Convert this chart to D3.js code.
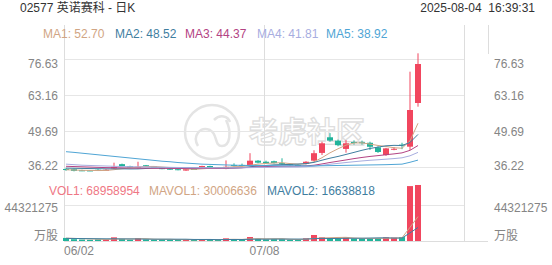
<!DOCTYPE html>
<meta charset="utf-8">
<style>
  body { margin: 0; background: #fff; }
  svg text { font-family: "Liberation Sans", Arial, "Noto Sans CJK SC", sans-serif; }
  .grid { stroke: #e6e6e6; stroke-width: 1; }
  .vgrid { stroke: #dddddd; stroke-width: 1; }
  .lbl { fill: #858585; font-size: 12px; }
</style>
<body>
<svg id="chart" width="552" height="265"></svg>
<script src="https://cdn.jsdelivr.net/npm/d3@7"></script>
<script>

// trading days 06/02 .. 08/04
var dates = ["06/02","06/03","06/04","06/05","06/06","06/09","06/10","06/11","06/12","06/13",
  "06/16","06/17","06/18","06/19","06/20","06/23","06/24","06/25","06/26","06/27","06/30",
  "07/02","07/03","07/04","07/07","07/08","07/09","07/10","07/11","07/14","07/15","07/16",
  "07/17","07/18","07/21","07/22","07/23","07/24","07/25","07/28","07/29","07/30","07/31",
  "08/01","08/04"];

var openP  = [35.6,35.5,35.1,35.05,35.3,35.0,35.8,37.4,36.6,36.0,37.0,36.6,35.9,35.7,35.5,35.0,35.6,36.3,36.7,36.0,
  35.6,37.1,37.1,37.1,38.7,38.3,38.5,37.8,37.4,37.1,37.45,38.7,41.6,47.45,46.2,43.1,45.7,45.6,45.4,43.7,
  40.8,43.0,44.7,43.93,60.28];
var highP  = [35.9,35.7,35.3,35.2,35.5,35.5,37.95,37.6,36.8,38.3,37.1,36.7,36.0,35.8,35.6,35.6,35.7,36.8,36.8,36.1,
  38.8,37.7,37.6,41.5,38.9,38.7,38.7,39.6,37.5,37.3,38.5,42.6,45.8,49.0,46.6,46.4,46.3,46.2,45.8,44.1,
  43.5,43.8,45.4,72.0,78.87];
var lowP   = [34.9,34.7,34.8,34.8,34.9,34.9,35.6,36.5,36.2,35.8,36.6,36.4,35.5,35.3,35.1,34.9,35.3,36.2,36.2,35.8,
  35.5,36.5,36.7,37.0,37.7,37.5,37.6,37.1,36.9,36.9,37.3,38.5,40.8,45.8,44.1,41.7,44.7,44.7,42.7,41.6,
  40.5,42.6,43.0,42.7,58.9];
var closeP = [35.2,34.9,35.0,34.95,35.0,35.3,36.4,36.7,36.4,36.4,36.7,36.5,35.6,35.4,35.2,35.5,35.5,36.7,36.3,35.9,
  36.4,36.95,37.0,38.7,37.95,37.7,37.8,37.5,37.1,37.0,38.3,41.5,45.2,46.2,44.5,45.2,45.5,45.4,43.9,41.95,
  43.3,43.15,44.5,57.66,74.87];

var ma1 = [35.3,35.2,35.1,35.05,35.01,35.03,35.33,35.67,35.96,36.24,36.52,36.54,36.32,36.12,35.88,35.64,35.44,35.66,35.84,35.98,
  36.16,36.45,36.51,36.99,37.40,37.66,37.83,37.93,37.61,37.42,37.54,38.28,39.82,41.64,43.14,44.52,45.32,45.36,44.90,44.39,
  44.01,43.54,43.36,46.11,52.70];
var ma2 = [35.9,35.85,35.8,35.75,35.7,35.65,35.65,35.65,35.6,35.63,35.78,35.94,36.0,36.04,36.06,36.08,35.99,35.99,35.98,35.93,
  35.90,35.95,36.09,36.42,36.69,36.91,37.14,37.22,37.30,37.41,37.60,38.06,38.88,39.63,40.28,41.03,41.80,42.59,43.27,43.77,
  44.27,44.43,44.36,45.51,48.52];
var ma3 = [36.6,36.5,36.4,36.3,36.2,36.1,36.05,36.0,35.95,35.9,35.9,35.85,35.85,35.8,35.8,35.8,35.8,35.8,35.8,35.78,
  35.84,35.94,36.04,36.23,36.38,36.50,36.57,36.61,36.64,36.67,36.75,37.00,37.48,38.02,38.49,38.97,39.47,39.90,40.29,40.59,
  40.93,41.24,41.62,42.57,44.37];
var ma4 = [37.4,37.2,37.0,36.9,36.8,36.7,36.6,36.5,36.45,36.4,36.35,36.3,36.25,36.2,36.15,36.1,36.05,36.0,36.0,36.0,
  36.0,36.0,36.05,36.1,36.15,36.2,36.25,36.28,36.3,36.32,36.43,36.65,36.99,37.36,37.68,38.01,38.31,38.60,38.85,39.04,
  39.26,39.48,39.77,40.52,41.81];
var ma5 = [42.06,41.8,41.5,41.2,40.9,40.6,40.3,40.0,39.7,39.4,39.1,38.8,38.5,38.3,38.0,37.8,37.6,37.4,37.3,37.2,
  37.1,37.0,36.95,36.9,36.9,36.85,36.85,36.8,36.8,36.8,36.75,36.75,36.8,36.85,36.9,36.95,37.0,37.05,37.1,37.15,
  37.2,37.3,37.4,38.1,38.92];

var vol = [3.8e6,2.2e6,1.8e6,1.5e6,2.0e6,1.8e6,4.5e6,2.4e6,1.6e6,3.4e6,2.0e6,1.6e6,1.8e6,1.5e6,1.6e6,1.7e6,1.3e6,2.2e6,1.8e6,1.2e6,
  3.3e6,1.9e6,1.6e6,4.9e6,2.6e6,2.0e6,2.3e6,2.2e6,1.5e6,1.4e6,3.3e6,7.4e6,4.5e6,3.5e6,3.0e6,4.2e6,3.0e6,2.8e6,3.0e6,3.36e6,
  4.5e6,4.1e6,4.8e6,67.6e6,68958954];
var mavol1 = [3.5e6,3.2e6,2.9e6,2.6e6,2.26e6,1.86e6,2.32e6,2.44e6,2.46e6,2.74e6,2.78e6,2.2e6,2.08e6,2.06e6,1.7e6,1.64e6,1.58e6,1.66e6,1.72e6,1.64e6,
  1.96e6,2.08e6,1.96e6,2.58e6,2.86e6,2.6e6,2.68e6,2.8e6,2.12e6,1.88e6,2.14e6,3.16e6,3.62e6,4.02e6,4.34e6,4.52e6,3.64e6,3.3e6,3.2e6,3.27e6,
  3.33e6,3.55e6,3.95e6,16.87e6,30006636];
var mavol2 = [3.2e6,3.1e6,3.0e6,2.9e6,2.8e6,2.7e6,2.7e6,2.6e6,2.55e6,2.5e6,2.32e6,2.26e6,2.26e6,2.26e6,2.22e6,2.21e6,1.89e6,1.87e6,1.89e6,1.67e6,
  1.8e6,1.83e6,1.81e6,2.15e6,2.25e6,2.28e6,2.38e6,2.38e6,2.35e6,2.37e6,2.37e6,2.92e6,3.21e6,3.07e6,3.11e6,3.33e6,3.4e6,3.46e6,3.61e6,3.81e6,
  3.93e6,3.6e6,3.63e6,10.04e6,16638818];

var priceTicks = [76.63, 63.16, 49.69, 36.22];
var volTick = 44321275;
var dateTicks = ["06/02", "07/08"];
var maNames = ["MA1", "MA2", "MA3", "MA4", "MA5"];
var maColors = ["#d1a584", "#3f7e9f", "#b34383", "#a7addf", "#4fa5d5"];
var upColor = "#f1465e", downColor = "#21b39a";

var svg = d3.select("#chart");
svg.append("rect").attr("width", 552).attr("height", 265).attr("fill", "#fff");

var x = d3.scaleBand().domain(d3.range(50)).range([62, 462]);
var xc = function(i) { return x(i) + x.bandwidth() / 2; };
var y = d3.scaleLinear().domain([36.22, 76.63]).range([167.3, 59.3]);
var yv = d3.scaleLinear().domain([0, volTick]).range([241, 205]);

// watermark
var wm = svg.append("g").attr("fill", "none").attr("stroke", "#e4e4e4");
wm.append("circle").attr("cx", 212).attr("cy", 132).attr("r", 27).attr("stroke-width", 2.5);
wm.append("path").attr("stroke-width", 2.5)
  .attr("d", "M198,146 C192,136 200,126 210,130 C218,134 214,146 222,146 C230,146 232,132 226,120 M214,120 C220,114 228,116 230,122");
svg.append("text").attr("x", 249).attr("y", 143)
  .style("font-family", "'Noto Sans CJK SC'").style("font-size", "29px").style("font-weight", "bold")
  .attr("fill", "#fff").attr("stroke", "#dedede").attr("stroke-width", 1.3)
  .text("老虎社区");

// grid
svg.selectAll(".hg").data(priceTicks).enter().append("line")
  .attr("class", "grid").attr("x1", 64).attr("x2", 464)
  .attr("y1", function(d) { return Math.round(y(d)) + 0.5; })
  .attr("y2", function(d) { return Math.round(y(d)) + 0.5; });
svg.append("line").attr("class", "grid").attr("x1", 64).attr("x2", 464).attr("y1", 205.5).attr("y2", 205.5);
svg.append("line").attr("class", "vgrid").attr("x1", 64).attr("x2", 488).attr("y1", 241.5).attr("y2", 241.5);

dateTicks.forEach(function(t) {
  var i = dates.indexOf(t);
  var gx = x(i) + 2.5;
  svg.append("line").attr("class", "vgrid").attr("x1", gx).attr("x2", gx).attr("y1", 25).attr("y2", 241);
  svg.append("text").attr("class", "lbl").attr("x", i === 0 ? 64 : gx).attr("y", 255)
    .attr("text-anchor", i === 0 ? "start" : "middle").text(t);
});
svg.append("line").attr("class", "vgrid").attr("x1", 464.5).attr("x2", 464.5).attr("y1", 25).attr("y2", 241);
svg.append("line").attr("class", "vgrid").attr("x1", 488.5).attr("x2", 488.5).attr("y1", 25).attr("y2", 54);

// price labels
priceTicks.forEach(function(t, k) {
  var off = k === 0 ? 9 : (k === priceTicks.length - 1 ? 2.7 : 4.5);
  svg.append("text").attr("class", "lbl").attr("x", 58).attr("y", y(t) + off).attr("text-anchor", "end").text(t.toFixed(2));
  svg.append("text").attr("class", "lbl").attr("x", 494).attr("y", y(t) + off).text(t.toFixed(2));
});
svg.append("text").attr("class", "lbl").attr("x", 58).attr("y", 211.5).attr("text-anchor", "end").text(volTick);
svg.append("text").attr("class", "lbl").attr("x", 494).attr("y", 211.5).text(volTick);
svg.append("text").attr("class", "lbl").attr("x", 58).attr("y", 239.5).attr("text-anchor", "end").text("万股");
svg.append("text").attr("class", "lbl").attr("x", 494).attr("y", 239.5).text("万股");

// volume
svg.append("clipPath").attr("id", "vclip").append("rect").attr("x", 60).attr("y", 184).attr("width", 410).attr("height", 58);
var vg = svg.append("g").attr("clip-path", "url(#vclip)");
vg.selectAll(".vb").data(vol).enter().append("rect")
  .attr("x", function(d, i) { return xc(i) - 3; })
  .attr("width", 6)
  .attr("y", function(d) { return yv(d); })
  .attr("height", function(d) { return 241 - yv(d); })
  .attr("fill", function(d, i) { return closeP[i] >= openP[i] ? upColor : downColor; });
var vline = d3.line().x(function(d, i) { return xc(i); }).y(function(d) { return yv(d); });
vg.append("path").datum(mavol1).attr("d", vline).attr("fill", "none").attr("stroke", "#d1a584").attr("stroke-width", 1);
vg.append("path").datum(mavol2).attr("d", vline).attr("fill", "none").attr("stroke", "#3f7e9f").attr("stroke-width", 1);

// candles
var cg = svg.append("g");
dates.forEach(function(d, i) {
  var col = closeP[i] >= openP[i] ? upColor : downColor;
  var cx = xc(i);
  cg.append("line").attr("x1", cx).attr("x2", cx).attr("y1", y(highP[i])).attr("y2", y(lowP[i]))
    .attr("stroke", col).attr("stroke-width", 1);
  var top = y(Math.max(openP[i], closeP[i])), bot = y(Math.min(openP[i], closeP[i]));
  cg.append("rect").attr("x", cx - 3).attr("width", 6).attr("y", top).attr("height", Math.max(1, bot - top))
    .attr("fill", col);
});

// moving averages
var mline = d3.line().x(function(d, i) { return xc(i); }).y(function(d) { return y(d); });
[ma1, ma2, ma3, ma4, ma5].forEach(function(s, k) {
  svg.append("path").datum(s).attr("d", mline).attr("fill", "none")
    .attr("stroke", maColors[k]).attr("stroke-width", 1);
});

// header
svg.append("text").attr("x", 20).attr("y", 12).attr("fill", "#333").style("font-size", "12px")
  .text("02577 英诺赛科 - 日K");
svg.append("text").attr("x", 535).attr("y", 12).attr("fill", "#333").attr("text-anchor", "end")
  .style("font-size", "12px").style("white-space", "pre").text("2025-08-04  16:39:31");

var maX = [43, 115, 185, 257, 326];
[ma1, ma2, ma3, ma4, ma5].forEach(function(s, k) {
  svg.append("text").attr("x", maX[k]).attr("y", 38).attr("fill", maColors[k]).style("font-size", "12px")
    .text(maNames[k] + ": " + s[s.length - 1].toFixed(2));
});

var volLegend = [
  {name: "VOL1", v: vol[vol.length - 1], c: "#ef7784", x: 49},
  {name: "MAVOL1", v: mavol1[mavol1.length - 1], c: "#d1a584", x: 149},
  {name: "MAVOL2", v: mavol2[mavol2.length - 1], c: "#3f7e9f", x: 267}
];
volLegend.forEach(function(l) {
  svg.append("text").attr("x", l.x).attr("y", 195).attr("fill", l.c).style("font-size", "12px")
    .text(l.name + ": " + l.v);
});

</script>
</body>
